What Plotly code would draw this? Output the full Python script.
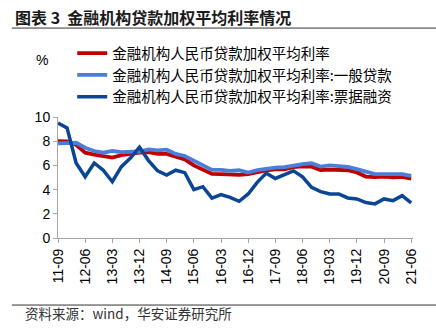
import plotly.graph_objects as go

quarters = ["11-09", "11-12", "12-03", "12-06", "12-09", "12-12", "13-03", "13-06", "13-09", "13-12",
            "14-03", "14-06", "14-09", "14-12", "15-03", "15-06", "15-09", "15-12", "16-03", "16-06",
            "16-09", "16-12", "17-03", "17-06", "17-09", "17-12", "18-03", "18-06", "18-09", "18-12",
            "19-03", "19-06", "19-09", "19-12", "20-03", "20-06", "20-09", "20-12", "21-03", "21-06"]

overall = [8.0, 7.98, 7.7, 7.05, 6.9, 6.78, 6.64, 6.84, 6.97, 7.05,
           7.1, 6.95, 6.95, 6.75, 6.5, 6.0, 5.69, 5.3, 5.28, 5.25,
           5.22, 5.27, 5.45, 5.58, 5.68, 5.68, 5.85, 5.92, 5.9, 5.62,
           5.65, 5.63, 5.6, 5.42, 5.08, 5.03, 5.08, 5.02, 5.06, 4.9]

general = [7.82, 7.82, 7.87, 7.46, 7.19, 7.05, 7.19, 7.1, 7.15, 7.15,
           7.33, 7.25, 7.3, 6.95, 6.78, 6.37, 5.96, 5.63, 5.63, 5.55,
           5.6, 5.41, 5.6, 5.74, 5.82, 5.85, 6.0, 6.1, 6.18, 5.9,
           6.0, 5.9, 5.87, 5.69, 5.47, 5.28, 5.28, 5.28, 5.28, 5.14]

bills = [9.5, 9.1, 6.2, 5.06, 6.2, 5.6, 4.65, 5.9, 6.6, 7.5,
         6.4, 5.55, 5.2, 5.6, 5.4, 4.0, 4.24, 3.3, 3.58, 3.36,
         3.03, 3.64, 4.6, 5.36, 4.92, 5.2, 5.55, 5.06, 4.18, 3.83,
         3.64, 3.64, 3.31, 3.23, 2.93, 2.82, 3.23, 3.09, 3.5, 2.9]

names = ["金融机构人民币贷款加权平均利率",
         "金融机构人民币贷款加权平均利率:一般贷款",
         "金融机构人民币贷款加权平均利率:票据融资"]
colors = ["#C00000", "#4A7EDB", "#0B4595"]
title_text = "<b>图表 3  金融机构贷款加权平均利率情况</b>"
source_text = "资料来源：wind，华安证券研究所"
tick_step = 3

FONT = "Noto Sans CJK SC, Arial, sans-serif"
x = list(range(len(quarters)))

fig = go.Figure()
for i, (vals, nm, c) in enumerate(zip([overall, general, bills], names, colors)):
    fig.add_trace(go.Scatter(x=x, y=vals, mode="lines", name=nm,
                             line=dict(color=c, width=3.8 if i < 2 else 3.5),
                             legendgroup=str(i)))

tickvals = x[::tick_step]
ticktext = quarters[::tick_step]

fig.update_layout(
    width=436, height=334,
    margin=dict(l=58, r=23, t=117, b=96),
    paper_bgcolor="white", plot_bgcolor="white",
    font=dict(family=FONT, color="#000000"),
    showlegend=True,
    legend=dict(x=0.04, y=1.66, xanchor="left", yanchor="top",
                font=dict(size=14.5, family=FONT, color="#000000"),
                bgcolor="rgba(0,0,0,0)", tracegroupgap=3, traceorder="normal"),
    xaxis=dict(range=[0, 39.2], tickmode="array", tickvals=tickvals, ticktext=ticktext,
               tickangle=-90, ticks="outside", ticklen=4, tickcolor="#A6A6A6",
               showline=True, linecolor="#A6A6A6", linewidth=1, showgrid=False, zeroline=False,
               tickfont=dict(family="Arial, Liberation Sans, sans-serif", size=14, color="#000000")),
    yaxis=dict(range=[0, 10], dtick=2, ticks="outside", ticklen=4, tickcolor="#A6A6A6",
               showline=True, linecolor="#A6A6A6", linewidth=1, showgrid=False, zeroline=False,
               tickfont=dict(family="Arial, Liberation Sans, sans-serif", size=14, color="#000000")),
)

fig.add_annotation(text=title_text, xref="paper", yref="paper", x=-0.127, y=1.83,
                   xanchor="left", yanchor="middle", showarrow=False,
                   font=dict(family=FONT, size=16, color="#1a1a1a"))
fig.add_annotation(text="%", xref="paper", yref="paper", x=-0.045, y=1.47,
                   xanchor="center", yanchor="middle", showarrow=False,
                   font=dict(family="Arial, Liberation Sans, sans-serif", size=14, color="#000000"))
fig.add_annotation(text=source_text, xref="paper", yref="paper", x=-0.1, y=-0.62,
                   xanchor="left", yanchor="middle", showarrow=False,
                   font=dict(family=FONT, size=13.5, color="#333333"))

fig.add_shape(type="line", xref="paper", yref="paper", x0=-0.13, x1=1.065, y0=1.735, y1=1.735,
              line=dict(color="#333333", width=1))
fig.add_shape(type="line", xref="paper", yref="paper", x0=-0.13, x1=1.065, y0=-0.554, y1=-0.554,
              line=dict(color="#333333", width=1))

fig.write_html("out.html")
